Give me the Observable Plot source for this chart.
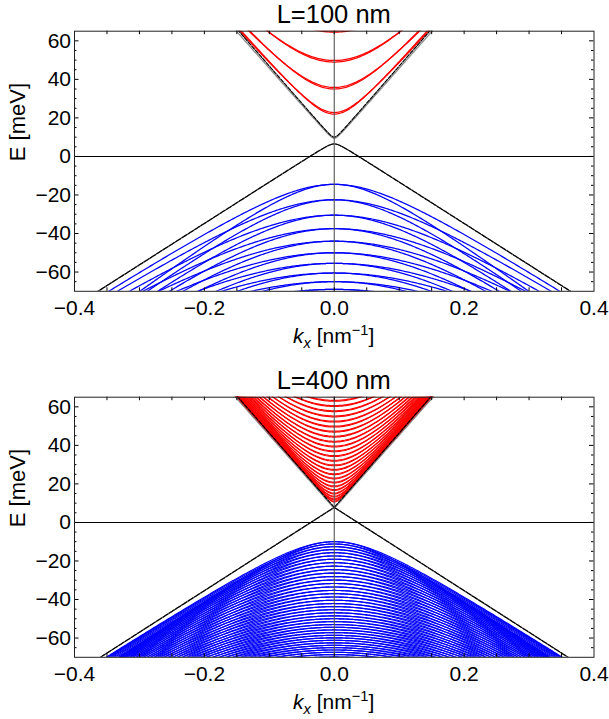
<!DOCTYPE html>
<html><head><meta charset="utf-8">
<script src="https://cdn.jsdelivr.net/npm/d3@7"></script>
<script src="https://cdn.jsdelivr.net/npm/@observablehq/plot@0.6"></script>
<style>
body{margin:0;background:#fff;font-family:"Liberation Sans",Arial,sans-serif;color:#000;}
#wrap{position:relative;width:609px;height:719px;overflow:hidden;}
.panel{position:absolute;left:0;width:609px;height:366px;}
.title{position:absolute;left:74px;width:519.5px;text-align:center;font-size:25.5px;line-height:1;white-space:nowrap;}
.xlabel{position:absolute;left:74px;width:519.5px;text-align:center;font-size:21px;line-height:1;white-space:nowrap;}
.xlabel sub,.xlabel sup{font-size:70%;line-height:0;}
.panel svg{position:absolute;left:0;top:0;}
</style></head>
<body><div id="wrap"></div>
<script>
// ---- data ----
const kTicks = [-0.4, -0.2, 0, 0.2, 0.4];
const eTicks = [-60, -40, -20, 0, 20, 40, 60];
const kMinorTicks = [-0.35,-0.3,-0.25,-0.2,-0.15,-0.1,-0.05,0,0.05,0.1,0.15,0.2,0.25,0.3,0.35];
const eMinorTicks = [-65,-60,-55,-50,-45,-40,-35,-30,-25,-20,-15,-10,-5,0,5,10,15,20,25,30,35,40,45,50,55,60];
const titles = ["L=100 nm", "L=400 nm"];

// edge-state (black) curves: center energy at k=0, half gap, velocities (meV·nm)
const edgeCenter = [8.25, 7.8];
const edgeHalfGap = [1.75, 0.0];
const vUp = [386, 386];
const vDown = [215, 216];

// conduction subband (red) minima at k=0, meV
const red100 = [22, 35, 49, 64.5];
const red400 = [10.6, 11.8, 13.2, 14.8, 16.6, 18.5, 20.5, 22.6, 24.8, 27.1, 29.4, 31.8, 34.2, 36.7, 39.2, 41.7, 44.3, 46.9, 49.5, 52.1, 54.8, 57.5, 60.2, 62.9, 65.6];
const redSplit = [0.8, 0.45];

// valence subband (blue) maxima at k=0, meV
const blue100 = [-14.5, -22.5, -30.5, -37.5, -44, -50, -55.5, -60.5, -65, -69];
const blue400 = [-10, -11.2, -12.6, -14.1, -15.7, -17.4, -19.1, -20.9, -22.7, -24.5, -26.3, -28.1, -29.9, -31.7, -33.5, -35.3, -37.0, -38.7, -40.4, -42.1, -43.7, -45.3, -46.9, -48.5, -50.0, -51.5, -53.0, -54.4, -55.8, -57.2, -58.6, -59.9, -61.2, -62.5, -63.8, -65.0, -66.2, -67.4, -68.6, -69.8];
const blueCenter = [8, 8];
const blueSplitV = [1.16, 1.06];

const kSample = d3.range(-0.4, 0.40001, 0.002);

function buildPanel(i, red, blue) {
  const c = edgeCenter[i], g = edgeHalfGap[i];
  const upper = kSample.map(k => ({k, E: c + Math.sqrt(g*g + (vUp[i]*k)**2)}));
  const upperGray = kSample.map(k => ({k, E: c - 0.6 + Math.sqrt(g*g + (vUp[i]*0.985*k)**2)}));
  const lower = kSample.map(k => ({k, E: c - Math.sqrt(g*g + (vDown[i]*k)**2)}));
  const reds = [];
  red.forEach((E0, n) => {
    for (const [s, dv] of [[0, 1], [redSplit[i], 0.98]]) {
      const A = E0 + s - c;
      kSample.forEach(k => reds.push({k, E: c + Math.sqrt(A*A + (vUp[i]*dv*k)**2), id: n + "_" + s}));
    }
  });
  const blues = [];
  blue.forEach((E0, n) => {
    const A = blueCenter[i] - E0;
    for (const [tag, f] of [["a", 1], ["b", blueSplitV[i]]]) {
      kSample.forEach(k => blues.push({k, E: blueCenter[i] - Math.sqrt(A*A + (vDown[i]*f*k)**2), id: n + tag}));
    }
  });
  return {upper, upperGray, lower, reds, blues};
}

const panels = [buildPanel(0, red100, blue100), buildPanel(1, red400, blue400)];

const H = 320, mt = 30.7, mb = 29.2, ml = 74, mr = 15.5;
const innerW = 609 - ml - mr, innerH = H - mt - mb;

panels.forEach((p, i) => {
  const div = document.createElement("div");
  div.className = "panel";
  div.style.top = (i * 366) + "px";
  const lw = i === 0 ? 1.25 : 1.15;
  const svg = Plot.plot({
    width: 609, height: H,
    marginLeft: ml, marginRight: mr, marginTop: mt, marginBottom: mb,
    style: {fontFamily: '"Liberation Sans", Arial, sans-serif', fontSize: "21px", color: "#000", background: "transparent"},
    x: {domain: [-0.4, 0.4]},
    y: {domain: [-70, 65]},
    marks: [
      Plot.line(p.blues, {x: "k", y: "E", z: "id", stroke: "#0000ff", strokeWidth: lw, clip: true}),
      Plot.line(p.reds, {x: "k", y: "E", z: "id", stroke: "#ff0000", strokeWidth: lw, clip: true}),
      Plot.line(p.upperGray, {x: "k", y: "E", stroke: "#8a8a8a", strokeWidth: 1.2, clip: true}),
      Plot.line(p.upper, {x: "k", y: "E", stroke: "#000", strokeWidth: 1.2, strokeDasharray: "4,1.5", clip: true}),
      Plot.line(p.lower, {x: "k", y: "E", stroke: "#777", strokeWidth: 1.2, clip: true}),
      Plot.line(p.lower, {x: "k", y: "E", stroke: "#000", strokeWidth: 1.2, strokeDasharray: "6,1.5", clip: true}),
      Plot.ruleX([0], {stroke: "#555", strokeWidth: 1.1}),
      Plot.ruleY([0], {stroke: "#000", strokeWidth: 1.1}),
      // inward frame ticks
      Plot.tickY(eTicks, {y: d => d, insetRight: innerW - 4.5, stroke: "#000"}),
      Plot.tickY(eTicks, {y: d => d, insetLeft: innerW - 4.5, stroke: "#000"}),
      Plot.tickY(eMinorTicks.filter(d => !eTicks.includes(d)), {y: d => d, insetRight: innerW - 2.5, stroke: "#000"}),
      Plot.tickY(eMinorTicks.filter(d => !eTicks.includes(d)), {y: d => d, insetLeft: innerW - 2.5, stroke: "#000"}),
      Plot.tickX(kMinorTicks, {x: d => d, insetTop: innerH - 3.5, stroke: "#000"}),
      Plot.tickX(kMinorTicks, {x: d => d, insetBottom: innerH - 3.5, stroke: "#000"}),
      Plot.axisX({anchor: "bottom", ticks: kTicks, tickSize: 0, tickPadding: 9, tickFormat: d3.format(".1f"), label: null, fontSize: 21}),
      Plot.axisY({anchor: "left", ticks: eTicks, tickSize: 0, tickPadding: 3.5, tickFormat: d3.format("d"), label: null, fontSize: 21}),
      Plot.text(["E [meV]"], {frameAnchor: "left", rotate: -90, dx: -57, fontSize: 22}),
      Plot.frame({stroke: "#222", strokeWidth: 1})
    ]
  });
  div.appendChild(svg);
  const t = document.createElement("div");
  t.className = "title"; t.textContent = titles[i];
  t.style.top = (24 - 0.8465 * 25.5) + "px";
  div.appendChild(t);
  const xl = document.createElement("div");
  xl.className = "xlabel";
  xl.innerHTML = '<i>k</i><sub><i>x</i></sub> [nm<sup>\u22121</sup>]';
  xl.style.top = (342.3 - 0.8465 * 21) + "px";
  div.appendChild(xl);
  document.getElementById("wrap").appendChild(div);
});
</script></body></html>
